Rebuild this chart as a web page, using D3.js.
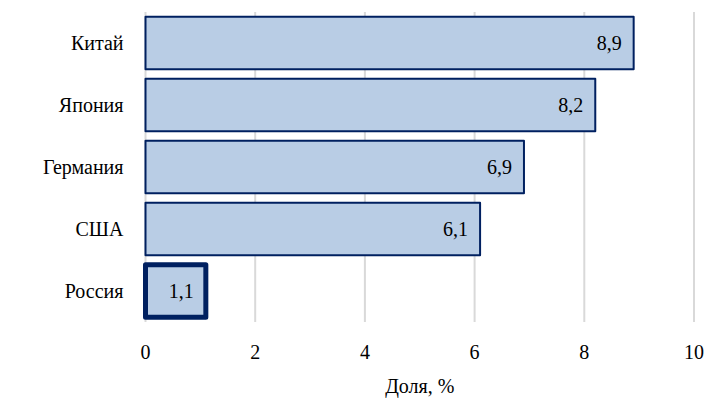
<!DOCTYPE html>
<html>
<head>
<meta charset="utf-8">
<script src="https://cdn.jsdelivr.net/npm/d3@7"></script>
<style>
  html, body { margin: 0; padding: 0; background: #fff; }
  svg { display: block; }
  .lbl { font-family: "Liberation Serif", serif; font-size: 20px; fill: #000; }
</style>
</head>
<body>
<svg id="chart" width="708" height="398" style="font-family: 'Liberation Serif', serif; font-size: 20px;"></svg>
<script>
const countries = ["Китай", "Япония", "Германия", "США", "Россия"];
const shares = [8.9, 8.2, 6.9, 6.1, 1.1];
const highlighted = ["Россия"];
const xTicks = [0, 2, 4, 6, 8, 10];
const xTitle = "Доля, %";

const svg = d3.select("#chart");
const margin = { left: 145.5, right: 14, top: 12, bottom: 76 };
const W = 708, H = 398;

const x = d3.scaleLinear().domain([0, 10]).range([margin.left, W - margin.right]);
const y = d3.scaleBand().domain(countries).range([margin.top, H - margin.bottom]).paddingInner(0.15).paddingOuter(0.075);

// vertical gridlines
svg.append("g").selectAll("line").data(xTicks).join("line")
  .attr("x1", d => x(d)).attr("x2", d => x(d))
  .attr("y1", margin.top).attr("y2", H - margin.bottom)
  .attr("stroke", "#d9d9d9").attr("stroke-width", 2);

const data = countries.map((c, i) => ({ c, v: shares[i] }));

svg.append("g").selectAll("rect").data(data).join("rect")
  .attr("x", x(0))
  .attr("y", d => y(d.c))
  .attr("width", d => x(d.v) - x(0))
  .attr("height", y.bandwidth())
  .attr("fill", "#b9cde5")
  .attr("stroke", "#002060")
  .attr("stroke-width", d => highlighted.includes(d.c) ? 5 : 2)
  .attr("stroke-linejoin", "round");

// value labels
svg.append("g").selectAll("text").data(data).join("text")
  .attr("class", "lbl")
  .attr("x", d => x(d.v) - 12)
  .attr("y", d => y(d.c) + y.bandwidth() / 2 + 7)
  .attr("text-anchor", "end")
  .text(d => String(d.v).replace(".", ","));

// category labels
svg.append("g").selectAll("text").data(countries).join("text")
  .attr("class", "lbl")
  .attr("x", x(0) - 22)
  .attr("y", d => y(d) + y.bandwidth() / 2 + 7)
  .attr("text-anchor", "end")
  .text(d => d);

// x axis tick labels
svg.append("g").selectAll("text").data(xTicks).join("text")
  .attr("class", "lbl")
  .attr("x", d => x(d))
  .attr("y", H - margin.bottom + 37)
  .attr("text-anchor", "middle")
  .text(d => d);

svg.append("text")
  .attr("class", "lbl")
  .attr("x", (x(0) + x(10)) / 2)
  .attr("y", 393)
  .attr("text-anchor", "middle")
  .text(xTitle);
</script>
</body>
</html>
